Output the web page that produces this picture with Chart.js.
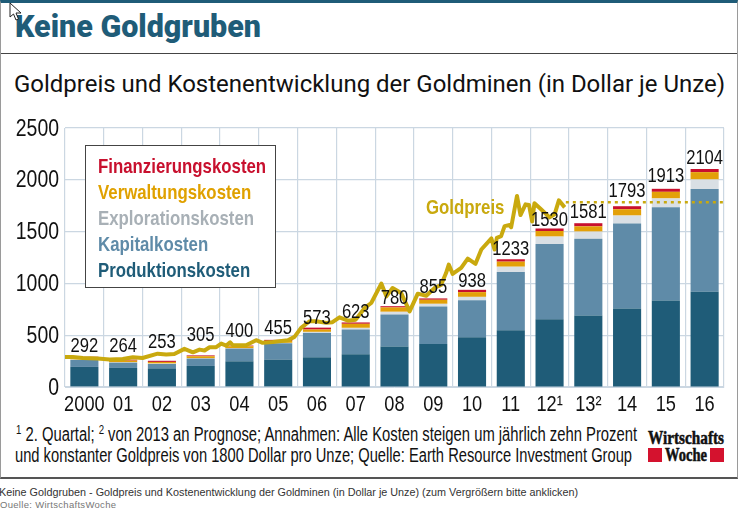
<!DOCTYPE html>
<html><head><meta charset="utf-8">
<script src="https://cdn.jsdelivr.net/npm/chart.js@4"></script>
<style>
html,body{margin:0;padding:0;background:#fff;width:739px;height:508px;overflow:hidden;font-family:"Liberation Sans",sans-serif}
.abs{position:absolute;white-space:nowrap}
#frame{left:0;top:0;width:738px;height:479px;border:1px solid #9a9a9a;border-top:3px solid #1f5c78;border-bottom:2px solid #555;box-sizing:border-box}
#rule{left:1px;top:53px;width:736px;height:1px;background:#444}
#head{left:15px;top:7px;font:900 32px "Roboto",sans-serif;color:#1f5c78;transform-origin:0 0}
#sub{left:14px;top:70px;font:24px "Roboto",sans-serif;color:#111;transform-origin:0 0}
#wrap{left:0;top:110px;width:739px;height:310px}
.note{font:20px "Liberation Sans",sans-serif;color:#111;transform-origin:0 0}
sup{font-size:13px;line-height:0;vertical-align:7px}
.logo{font:bold 18px "Liberation Serif",serif;color:#111;transform-origin:0 0;-webkit-text-stroke:.5px #111}
.red{background:#d4122e;width:14px;height:14px}
#cap{left:-1px;top:486px;font:10.8px "Liberation Sans",sans-serif;color:#333}
#src{left:0;top:499px;font:9.5px "Liberation Sans",sans-serif;color:#777;letter-spacing:.3px}
</style></head><body>
<div id="frame" class="abs"></div>
<div id="rule" class="abs"></div>
<div id="head" class="abs" data-fit="246">Keine Goldgruben</div>
<div id="sub" class="abs" data-fit="711">Goldpreis und Kostenentwicklung der Goldminen (in Dollar je Unze)</div>
<div id="wrap" class="abs"><canvas id="c" width="739" height="310"></canvas></div>
<div class="note abs" style="left:16px;top:423px" data-fit="621"><sup>1</sup> 2. Quartal; <sup>2</sup> von 2013 an Prognose; Annahmen: Alle Kosten steigen um jährlich zehn Prozent</div>
<div class="note abs" style="left:15px;top:444px" data-fit="617">und konstanter Goldpreis von 1800 Dollar pro Unze; Quelle: Earth Resource Investment Group</div>
<div class="logo abs" style="left:648px;top:428px" data-fit="76">Wirtschafts</div>
<div class="logo abs" style="left:665px;top:445px" data-fit="42">Woche</div>
<div class="red abs" style="left:648px;top:448px"></div>
<div class="red abs" style="left:710px;top:448px"></div>
<div id="cap" class="abs">Keine Goldgruben - Goldpreis und Kostenentwicklung der Goldminen (in Dollar je Unze) (zum Vergrößern bitte anklicken)</div>
<div id="src" class="abs">Quelle: WirtschaftsWoche</div>
<svg class="abs" style="left:9px;top:2px" width="14" height="20" viewBox="0 0 14 20"><path d="M1 1 L1 15 L4.5 12 L7 18 L9.5 17 L7 11 L12 11 Z" fill="#fff" stroke="#222" stroke-width="1"/></svg>
<script>
const categories=["2000","01","02","03","04","05","06","07","08","09","10","11","12¹","13²","14","15","16"];
const totalLabels=["292","264","253","305","400","455","573","623","780","855","938","1233","1530","1581","1793","1913","2104"];
const yTicks=[0,500,1000,1500,2000,2500];
const produktion=[194,184,180,203,248,265,287,316,390,416,480,548,655,690,758,835,920];
const kapital=[67,51,42,71,123,157,235,239,310,361,358,562,725,742,819,900,990];
const exploration=[4,4,4,3,3,4,10,16,26,26,32,51,72,68,78,85,93];
const verwaltung=[16,16,16,20,19,19,23,39,42,39,46,49,54,51,61,64,71];
const finanzierung=[11,9,11,8,7,10,18,13,12,13,22,23,24,30,29,29,30];
const goldX=[-0.52,-0.3,-0.04,0.34,0.65,0.99,1.25,1.5,1.89,2.11,2.32,2.58,2.8,2.97,3.1,3.23,3.4,3.53,3.66,3.76,3.83,4.17,4.43,4.6,4.86,5.25,5.42,5.59,5.81,5.98,6.24,6.4,6.58,6.8,7.0,7.23,7.4,7.66,7.79,7.95,8.17,8.39,8.6,8.82,9.05,9.2,9.33,9.4,9.5,9.72,9.89,10.09,10.24,10.5,10.58,10.64,10.75,10.84,10.97,11.01,11.16,11.25,11.38,11.47,11.55,11.61,11.78,12.0,12.13,12.24,12.39];
const goldY=[290,290,280,274,265,271,287,280,322,313,319,368,335,361,352,384,384,419,400,432,403,403,452,426,435,452,484,571,635,635,619,626,672,640,650,763,811,998,875,956,908,730,901,881,960,985,1100,1182,1092,1150,1240,1189,1327,1434,1327,1440,1457,1553,1563,1542,1844,1660,1763,1757,1598,1773,1715,1637,1667,1802,1734];
const forecastX=[12.42,16.47];
const forecastY=[1783,1783];
const legendItems=["Finanzierungskosten","Verwaltungskosten","Explorationskosten","Kapitalkosten","Produktionskosten"];
const legendColors=["#c8102e","#e0a100","#a8b0b6","#5f8ba8","#1f5c78"];
const goldLabel="Goldpreis";
const FONT='"Liberation Sans",sans-serif';
const SX=0.81;
const labelLift=[5,8,13,14,9,6,4,4,2.5,5,2.6,4,2.3,5,4,7,5];
document.querySelectorAll('[data-fit]').forEach(el=>{
  const w=el.getBoundingClientRect().width;
  el.style.transform='scaleX('+(+el.dataset.fit/w)+')';
});
const toXY=(xs,ys)=>xs.map((x,i)=>({x,y:ys[i]}));
const bar=(label,data,color)=>({type:'bar',label,data,backgroundColor:color,stack:'s',xAxisID:'x',yAxisID:'y',grouped:false,barPercentage:.725,categoryPercentage:1,order:2});
function narrow(ctx,t,x,y,sx){ctx.save();ctx.translate(x,y);ctx.scale(sx||SX,1);ctx.fillText(t,0,0);ctx.restore();}
const overlay={id:'overlay',afterDatasetsDraw(ch){
  const {ctx,scales:{x,y}}=ch;
  ctx.save();
  ctx.fillStyle='#111';
  ctx.font='22.5px '+FONT;ctx.textAlign='center';ctx.textBaseline='alphabetic';
  categories.forEach((t,i)=>narrow(ctx,t,x.getPixelForValue(i),y.bottom+24));
  ctx.font='24px '+FONT;ctx.textAlign='right';ctx.textBaseline='middle';
  yTicks.forEach(v=>narrow(ctx,String(v),59,y.getPixelForValue(v)+1));
  ctx.font='20.5px '+FONT;ctx.textAlign='center';ctx.textBaseline='alphabetic';
  totalLabels.forEach((t,i)=>narrow(ctx,t,x.getPixelForValue(i),y.getPixelForValue(Number(t))-labelLift[i]));
  ctx.textAlign='left';ctx.fillStyle='#c9a90e';ctx.font='bold 20.5px '+FONT;
  narrow(ctx,goldLabel,426,104,.82);
  const bx=85.5,by=35.5,bw=190,bh=142;
  ctx.fillStyle='#fff';ctx.fillRect(bx,by,bw,bh);
  ctx.strokeStyle='#444';ctx.lineWidth=1;ctx.strokeRect(bx,by,bw,bh);
  legendItems.forEach((t,i)=>{ctx.fillStyle=legendColors[i];narrow(ctx,t,98,63+i*26,.82);});
  ctx.restore();
}};
new Chart(document.getElementById('c'),{
 data:{labels:categories,datasets:[
  bar('Produktionskosten',produktion,'#1f5c78'),
  bar('Kapitalkosten',kapital,'#5f8ba8'),
  bar('Explorationskosten',exploration,'#d9dfe4'),
  bar('Verwaltungskosten',verwaltung,'#e3a008'),
  bar('Finanzierungskosten',finanzierung,'#c8102e'),
  {type:'line',label:'Goldpreis',data:toXY(goldX,goldY),xAxisID:'xg',yAxisID:'y',borderColor:'#c9a90e',borderWidth:4,pointRadius:0,tension:0,order:1,borderJoinStyle:'round'},
  {type:'line',label:'Prognose',data:toXY(forecastX,forecastY),xAxisID:'xg',yAxisID:'y',borderColor:'#c9a90e',borderWidth:2.6,borderDash:[3,4],pointRadius:0,order:1}
 ]},
 options:{responsive:false,animation:false,
  layout:{padding:{left:0,right:15,top:18,bottom:0}},
  plugins:{legend:{display:false},tooltip:{enabled:false}},
  scales:{
   x:{stacked:true,afterFit(s){s.height=33;},grid:{color:'#cbd7e2',lineWidth:1.2,drawTicks:false},border:{color:'#cbd7e2'},ticks:{display:false}},
   xg:{type:'linear',display:false,min:-0.5,max:16.5},
   y:{stacked:true,min:0,max:2500,afterFit(s){s.width=65;},grid:{color:'#cbd7e2',lineWidth:1.2,drawTicks:false},border:{display:false},ticks:{display:false,stepSize:500}}
  }},
 plugins:[overlay]
});
</script>
</body></html>
